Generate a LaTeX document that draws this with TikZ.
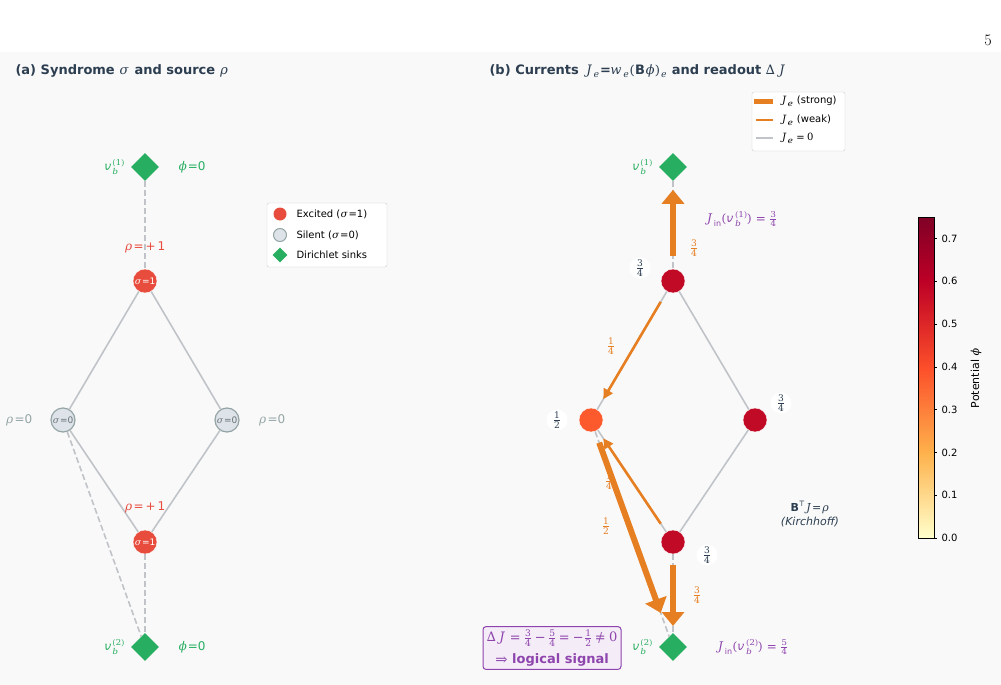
\documentclass[tikz,border=0pt]{standalone}
\usepackage{amsmath}
\usepackage{fontspec}
\usepackage{unicode-math}
\setmainfont{DejaVu Sans}
\setmathfont{DejaVu Math TeX Gyre}
\newfontfamily\pagefont{Latin Modern Roman}
\usetikzlibrary{positioning,calc,shapes.geometric,arrows.meta}
\definecolor{sinkgreen}{HTML}{27AE60}
\definecolor{excred}{HTML}{E74C3C}
\definecolor{silentfill}{HTML}{DDE3E9}
\definecolor{silentdraw}{HTML}{95A5A6}
\definecolor{edgegray}{HTML}{C0C4C8}
\definecolor{curorange}{HTML}{E67E22}
\definecolor{sigpurple}{HTML}{8E44AD}
\definecolor{titlecol}{HTML}{2C3E50}
\definecolor{phihigh}{HTML}{C10A26}
\definecolor{phimid}{HTML}{FC5A2D}
\definecolor{cmA}{HTML}{FFFFCC}
\definecolor{cmB}{HTML}{FEB24C}
\definecolor{cmC}{HTML}{FC4E2A}
\definecolor{cmD}{HTML}{BD0026}
\definecolor{cmE}{HTML}{800026}
\tikzset{
  sink/.style={diamond, fill=sinkgreen, minimum size=28pt, inner sep=0pt},
  excited/.style={circle, fill=excred, draw=white, minimum size=24pt, inner sep=0pt, font=\fontsize{9}{9}\selectfont, text=white},
  silent/.style={circle, fill=silentfill, draw=silentdraw, line width=1.2pt, minimum size=24pt, inner sep=0pt, font=\fontsize{9}{9}\selectfont, text=silentdraw!70!black},
  pot/.style={circle, draw=white, minimum size=24pt, inner sep=0pt},
  edge/.style={draw=edgegray, line width=1.6pt},
  bedge/.style={draw=edgegray, line width=1.6pt, dash pattern=on 6pt off 3pt},
  strong/.style={draw=curorange, line width=6pt, -{Triangle[length=14pt,width=22pt]}},
  weak/.style={draw=curorange, line width=2.6pt, -{Triangle[length=10pt,width=10pt]}},
  lab/.style={font=\fontsize{12}{14}\selectfont},
  frac/.style={font=\fontsize{13}{14}\selectfont},
}
\begin{document}
\begin{tikzpicture}[x=1pt, y=-1pt]
\useasboundingbox (0,0) rectangle (1001,685);
\fill[white] (0,0) rectangle (1001,685);
\fill[black!2.5] (0,52) rectangle (1001,685);
\node[font=\fontsize{16}{16}\selectfont\pagefont] (pagenum) at (988,40) {5};

% panel (a)
\node[anchor=west, font=\fontsize{13}{15}\selectfont\bfseries, text=titlecol] (titlea) at (12,71) {(a) Syndrome $\sigma$ and source $\rho$};
\node[sink] (as1) at (145,167) {};
\node[excited] (atop) at (145,281) {$\sigma$=1};
\node[silent] (aleft) at (63,420) {$\sigma$=0};
\node[silent] (aright) at (227,420) {$\sigma$=0};
\node[excited] (abot) at (145,542) {$\sigma$=1};
\node[sink] (as2) at (145,647) {};
\path[bedge] (as1) -- (atop);
\path[edge] (atop) -- (aleft);
\path[edge] (atop) -- (aright);
\path[edge] (aleft) -- (abot);
\path[edge] (aright) -- (abot);
\path[bedge] (abot) -- (as2);
\path[bedge] (aleft) -- (as2);
\node[lab, text=sinkgreen, left=2pt of as1] (as1l) {$v_b^{(1)}$};
\node[lab, text=sinkgreen] (as1p) at (192,167) {$\phi$=0};
\node[lab, text=sinkgreen, left=2pt of as2] (as2l) {$v_b^{(2)}$};
\node[lab, text=sinkgreen] (as2p) at (192,647) {$\phi$=0};
\node[lab, text=excred] (atopr) at (145,247) {$\rho$=\,+\,1};
\node[lab, text=excred] (abotr) at (145,507) {$\rho$=\,+\,1};
\node[lab, text=silentdraw] (aleftr) at (19,420) {$\rho$=0};
\node[lab, text=silentdraw] (arightr) at (272,420) {$\rho$=0};
% legend (a)
\draw[black!20, fill=white, rounded corners=2pt] (267,203) rectangle (387,267);
\node[circle, fill=excred, minimum size=13pt, inner sep=0pt] (lga1) at (280,214) {};
\node[circle, fill=silentfill, draw=silentdraw, line width=1pt, minimum size=13pt, inner sep=0pt] (lga2) at (280,235) {};
\node[diamond, fill=sinkgreen, minimum size=15pt, inner sep=0pt] (lga3) at (280,255) {};
\node[anchor=west, font=\fontsize{10}{11}\selectfont] at (293,214) {Excited ($\sigma$=1)};
\node[anchor=west, font=\fontsize{10}{11}\selectfont] at (293,235) {Silent ($\sigma$=0)};
\node[anchor=west, font=\fontsize{10}{11}\selectfont] at (293,255) {Dirichlet sinks};

% panel (b)
\node[anchor=west, font=\fontsize{13}{15}\selectfont\bfseries, text=titlecol] (titleb) at (486,71) {(b) Currents $J_e$=$w_e(\mathbf{B}\phi)_e$ and readout $\Delta J$};
\node[sink] (bs1) at (673,167) {};
\node[pot, fill=phihigh] (btop) at (673,281) {};
\node[pot, fill=phimid] (bleft) at (591,420) {};
\node[pot, fill=phihigh] (bright) at (755,420) {};
\node[pot, fill=phihigh] (bbot) at (673,542) {};
\node[sink] (bs2) at (673,647) {};
\path[bedge] (bs1) -- (btop);
\path[edge] (btop) -- (bleft);
\path[edge] (btop) -- (bright);
\path[edge] (bleft) -- (bbot);
\path[edge] (bright) -- (bbot);
\path[bedge] (bbot) -- (bs2);
\path[bedge] (bleft) -- (bs2);
\draw[strong] ($(btop)!0.22!(bs1)$) -- ($(btop)!0.8!(bs1)$);
\draw[strong] ($(bbot)!0.22!(bs2)$) -- ($(bbot)!0.8!(bs2)$);
\draw[strong] ($(bleft)!0.1!(bs2)$) -- ($(bleft)!0.85!(bs2)$);
\draw[weak] ($(btop)!0.15!(bleft)$) -- ($(btop)!0.85!(bleft)$);
\draw[weak] ($(bbot)!0.15!(bleft)$) -- ($(bbot)!0.85!(bleft)$);
\node[lab, text=sinkgreen, left=2pt of bs1] (bs1l) {$v_b^{(1)}$};
\node[lab, text=sinkgreen, left=2pt of bs2] (bs2l) {$v_b^{(2)}$};
\node[lab, text=sigpurple] (jin1) at (741,219) {$J_{\mathrm{in}}(v_b^{(1)})=\frac{3}{4}$};
\node[lab, text=sigpurple] (jin2) at (752,647) {$J_{\mathrm{in}}(v_b^{(2)})=\frac{5}{4}$};
\node[frac, text=curorange] at (694,248) {$\frac{3}{4}$};
\node[frac, text=curorange] at (697,595) {$\frac{3}{4}$};
\node[frac, text=curorange] at (611,346) {$\frac{1}{4}$};
\node[frac, text=curorange] at (609,481) {$\frac{1}{4}$};
\node[frac, text=curorange] at (606,526) {$\frac{1}{2}$};
\node[frac, text=titlecol, fill=white, circle, inner sep=1pt] at (640,268) {$\frac{3}{4}$};
\node[frac, text=titlecol, fill=white, circle, inner sep=1pt] at (557,420) {$\frac{1}{2}$};
\node[frac, text=titlecol, fill=white, circle, inner sep=1pt] at (781,403) {$\frac{3}{4}$};
\node[frac, text=titlecol, fill=white, circle, inner sep=1pt] at (707,555) {$\frac{3}{4}$};
\node[text=titlecol, align=center, font=\fontsize{11}{14}\selectfont] (kirch) at (810,514) {$\mathbf{B}^{\top}\!J$=$\rho$\\\textit{(Kirchhoff)}};
\node[draw=sigpurple, fill=sigpurple!10, rounded corners=3pt, line width=1pt, text=sigpurple, align=center, font=\fontsize{13}{22}\selectfont, inner sep=3pt] (readout) at (552,648) {$\Delta J=\frac{3}{4}-\frac{5}{4}=-\frac{1}{2}\neq 0$\\$\Rightarrow$ \textbf{logical signal}};
% legend (b)
\draw[black!20, fill=white, rounded corners=2pt] (752,92) rectangle (845,151);
\draw[curorange, line width=5pt] (754,101) -- (773,101);
\draw[curorange, line width=1.5pt] (756,120) -- (773,120);
\draw[edgegray, line width=1.5pt] (756,138) -- (773,138);
\node[anchor=west, font=\fontsize{10}{11}\selectfont] at (776,101) {$J_e$ (strong)};
\node[anchor=west, font=\fontsize{10}{11}\selectfont] at (776,120) {$J_e$ (weak)};
\node[anchor=west, font=\fontsize{10}{11}\selectfont] at (776,138) {$J_e=0$};

% colorbar
\shade[bottom color=cmA, top color=cmB] (918,538) rectangle (934,453);
\shade[bottom color=cmB, top color=cmC] (918,453.2) rectangle (934,367);
\shade[bottom color=cmC, top color=cmD] (918,367.2) rectangle (934,281);
\shade[bottom color=cmD, top color=cmE] (918,281.2) rectangle (934,217);
\draw[black, line width=0.6pt] (918,217) rectangle (934,538);
\foreach \v [count=\i from 0] in {0.0,0.1,0.2,0.3,0.4,0.5,0.6,0.7} {
  \draw (934,538-\i*42.8) -- (937,538-\i*42.8);
  \node[anchor=west, font=\fontsize{10}{11}\selectfont] at (938,538-\i*42.8) {\v};
}
\node[rotate=90, font=\fontsize{11}{12}\selectfont] (cblabel) at (976,378) {Potential $\phi$};
\end{tikzpicture}
\end{document}
